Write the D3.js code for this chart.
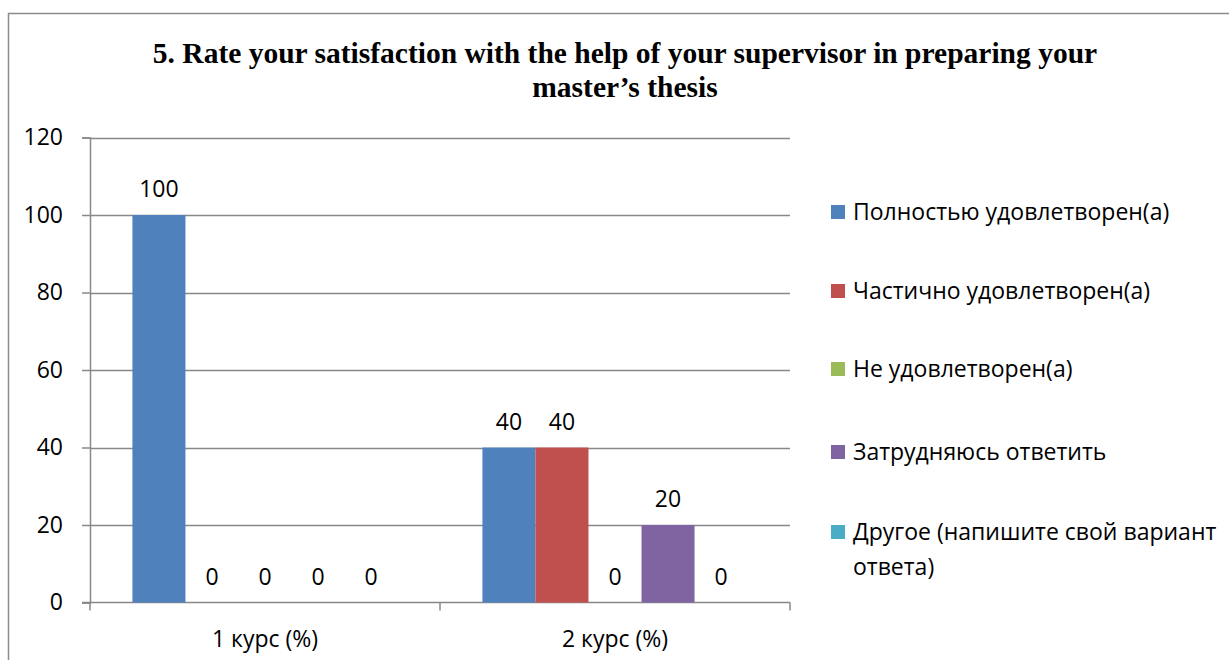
<!DOCTYPE html>
<html>
<head>
<meta charset="utf-8">
<script src="https://cdn.jsdelivr.net/npm/d3@7"></script>
<style>
  body { margin: 0; background: #fff; }
  svg text { font-family: "Open Sans", sans-serif; fill: #000; }
</style>
</head>
<body>
<div id="chart"></div>
<script>
const width = 1229;
const height = 660;

// data
const categories = ['1 курс (%)', '2 курс (%)'];
const seriesNames = [
    'Полностью удовлетворен(а)',
    'Частично удовлетворен(а)',
    'Не удовлетворен(а)',
    'Затрудняюсь ответить',
    'Другое (напишите свой вариант ответа)'
];
const seriesValues = [
    [100, 40],
    [0, 40],
    [0, 0],
    [0, 20],
    [0, 0]
];
const yTicks = [0, 20, 40, 60, 80, 100, 120];
const titleLines = [
    '5. Rate your satisfaction with the help of your supervisor in preparing your',
    'master\u2019s thesis'
];

const colors = ['#4F81BD', '#C0504D', '#9BBB59', '#8064A2', '#4BACC6'];

const svg = d3.select('#chart')
    .append('svg')
    .attr('width', width)
    .attr('height', height);

// outer frame (only top and left visible in the picture)
svg.append('path')
    .attr('d', 'M8.5,' + height + ' V13.5 H' + width)
    .attr('fill', 'none')
    .attr('stroke', '#8c8c8c')
    .attr('stroke-width', 1.5);

const plot = { left: 90, right: 790, top: 137.5, bottom: 602.5 };

const x = d3.scaleBand()
    .domain(categories)
    .range([plot.left, plot.right]);

const xInner = d3.scaleBand()
    .domain(d3.range(seriesNames.length))
    .range([0, x.bandwidth()])
    .paddingOuter(0.8)
    .paddingInner(0);

const y = d3.scaleLinear()
    .domain([0, 120])
    .range([plot.bottom, plot.top]);

// title
svg.append('text')
    .attr('x', 625)
    .attr('text-anchor', 'middle')
    .style('font-family', '"Liberation Serif", "Times New Roman", serif')
    .style('font-weight', 'bold')
    .style('font-size', '29.5px')
    .selectAll('tspan')
    .data(titleLines)
    .enter()
    .append('tspan')
    .attr('x', 625)
    .attr('y', (d, i) => 63 + i * 34)
    .text(d => d);

// gridlines
svg.append('g')
    .selectAll('line')
    .data(yTicks.filter(d => d > 0))
    .enter()
    .append('line')
    .attr('x1', plot.left)
    .attr('x2', plot.right)
    .attr('y1', d => Math.round(y(d)) + 0.5)
    .attr('y2', d => Math.round(y(d)) + 0.5)
    .attr('stroke', '#888')
    .attr('stroke-width', 1.5);

// y axis
const yAxis = svg.append('g')
    .attr('transform', 'translate(' + plot.left + ',0)')
    .call(d3.axisLeft(y).tickValues(yTicks).tickSize(8).tickPadding(19));
yAxis.select('.domain').attr('stroke', '#888').attr('stroke-width', 1.5);
yAxis.selectAll('.tick line').attr('stroke', '#888').attr('stroke-width', 1.5);
yAxis.selectAll('.tick text')
    .style('font-family', '"Open Sans", sans-serif')
    .style('font-size', '23px')
    .attr('fill', '#000');

// x axis
const xAxis = svg.append('g')
    .attr('transform', 'translate(0,' + plot.bottom + ')');
xAxis.append('line')
    .attr('x1', plot.left - 8)
    .attr('x2', plot.right)
    .attr('stroke', '#888')
    .attr('stroke-width', 1.5);
xAxis.selectAll('.cat-tick')
    .data([plot.left].concat(categories.map(c => x(c) + x.bandwidth())))
    .enter()
    .append('line')
    .attr('x1', d => d)
    .attr('x2', d => d)
    .attr('y1', 0)
    .attr('y2', 8)
    .attr('stroke', '#888')
    .attr('stroke-width', 1.5);
xAxis.selectAll('.cat-label')
    .data(categories)
    .enter()
    .append('text')
    .attr('x', d => x(d) + x.bandwidth() / 2)
    .attr('y', 44)
    .attr('text-anchor', 'middle')
    .style('font-size', '23px')
    .text(d => d);

// bars
const groups = svg.append('g')
    .selectAll('g')
    .data(categories)
    .enter()
    .append('g')
    .attr('transform', d => 'translate(' + x(d) + ',0)');

groups.selectAll('rect')
    .data((c, ci) => seriesValues.map((vals, si) => ({ s: si, v: vals[ci] })))
    .enter()
    .append('rect')
    .attr('x', d => xInner(d.s))
    .attr('width', xInner.bandwidth())
    .attr('y', d => y(d.v))
    .attr('height', d => y(0) - y(d.v))
    .attr('fill', d => colors[d.s]);

groups.selectAll('.lbl')
    .data((c, ci) => seriesValues.map((vals, si) => ({ s: si, v: vals[ci] })))
    .enter()
    .append('text')
    .attr('x', d => xInner(d.s) + xInner.bandwidth() / 2)
    .attr('y', d => y(d.v) - 18)
    .attr('text-anchor', 'middle')
    .style('font-size', '23px')
    .text(d => d.v);

// legend
const legendY = [212, 291, 369, 452, 532];
const legendLines = [
    ['Полностью удовлетворен(а)'],
    ['Частично удовлетворен(а)'],
    ['Не удовлетворен(а)'],
    ['Затрудняюсь ответить'],
    ['Другое (напишите свой вариант', 'ответа)']
];
const legend = svg.append('g')
    .selectAll('g')
    .data(seriesNames)
    .enter()
    .append('g')
    .attr('transform', (d, i) => 'translate(831,' + legendY[i] + ')');

legend.append('rect')
    .attr('x', 0)
    .attr('y', -7)
    .attr('width', 14)
    .attr('height', 14)
    .attr('fill', (d, i) => colors[i]);

legend.append('text')
    .style('font-size', '23px')
    .selectAll('tspan')
    .data((d, i) => legendLines[i])
    .enter()
    .append('tspan')
    .attr('x', 22)
    .attr('y', (d, j) => 8 + j * 35)
    .text(d => d);
</script>
</body>
</html>
